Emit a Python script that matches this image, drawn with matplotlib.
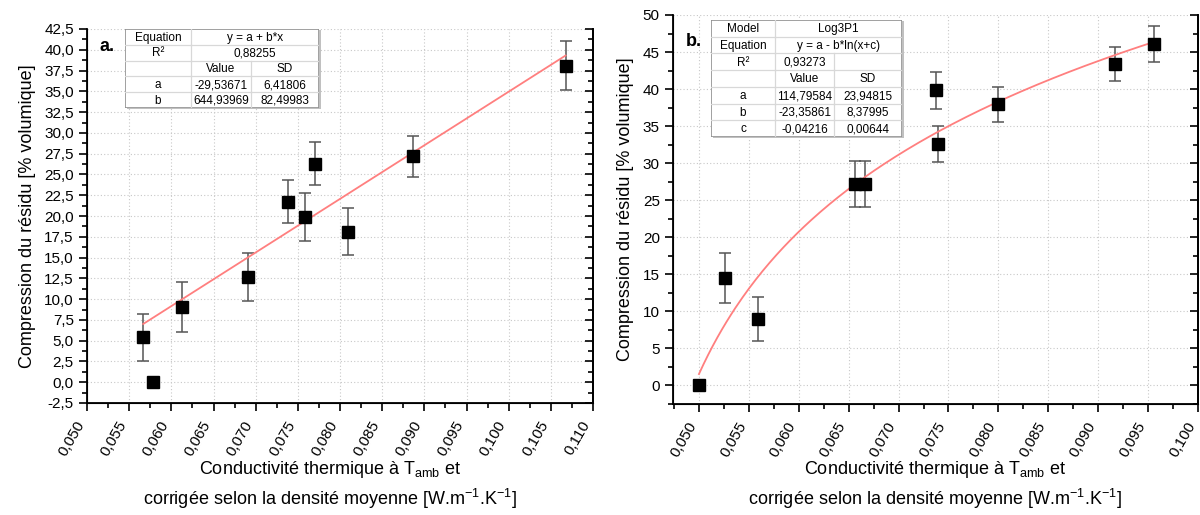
import matplotlib.pyplot as plt
import numpy as np
from matplotlib.ticker import MultipleLocator, FuncFormatter
from matplotlib.patches import Rectangle

plt.rcParams['font.family'] = ['Liberation Sans', 'DejaVu Sans']
plt.rcParams['mathtext.fontset'] = 'custom'
plt.rcParams['mathtext.rm'] = 'Liberation Sans'

# Panneau a : ajustement linéaire
xa = [0.05666, 0.05781, 0.06126, 0.06915, 0.07379, 0.07581, 0.07700, 0.08090, 0.08870, 0.10675]
ya = [5.41, 0.0, 9.05, 12.66, 21.7, 19.9, 26.3, 18.1, 27.16, 38.06]
ea = [2.85, 0.0, 3.0, 2.9, 2.6, 2.85, 2.55, 2.85, 2.5, 2.95]
a_lin, b_lin = -29.53671, 644.93969

# Panneau b : ajustement Log3P1
xb = [0.0500, 0.05256, 0.05595, 0.06565, 0.06667, 0.07374, 0.07392, 0.08001, 0.0917, 0.09555]
yb = [0.0, 14.48, 8.99, 27.16, 27.16, 39.84, 32.55, 37.95, 43.43, 46.13]
eb = [0.0, 3.4, 3.0, 3.1, 3.1, 2.5, 2.45, 2.35, 2.3, 2.45]
a_log, b_log, c_log = 114.79584, -23.35861, -0.04216

table_a = [
    [("Equation", 0, 1), ("y = a + b*x", 1, 3)],
    [("R²", 0, 1), ("0,88255", 1, 3)],
    [("", 0, 1), ("Value", 1, 2), ("SD", 2, 3)],
    [("a", 0, 1), ("-29,53671", 1, 2), ("6,41806", 2, 3)],
    [("b", 0, 1), ("644,93969", 1, 2), ("82,49983", 2, 3)],
]
table_b = [
    [("Model", 0, 1), ("Log3P1", 1, 3)],
    [("Equation", 0, 1), ("y = a - b*ln(x+c)", 1, 3)],
    [("R²", 0, 1), ("0,93273", 1, 2), ("", 2, 3)],
    [("", 0, 1), ("Value", 1, 2), ("SD", 2, 3)],
    [("a", 0, 1), ("114,79584", 1, 2), ("23,94815", 2, 3)],
    [("b", 0, 1), ("-23,35861", 1, 2), ("8,37995", 2, 3)],
    [("c", 0, 1), ("-0,04216", 1, 2), ("0,00644", 2, 3)],
]

xlab1 = "Conductivité thermique à T$_{\\mathrm{amb}}$ et"
xlab2 = "corrigée selon la densité moyenne [W.m$^{\\mathrm{-1}}$.K$^{\\mathrm{-1}}$]"
ylab = "Compression du résidu [% volumique]"

W, H = 1200, 515
fig = plt.figure(figsize=(W / 100, H / 100), dpi=100)


def px_axes(x0, y0, x1, y1):
    return fig.add_axes([x0 / W, 1 - y1 / H, (x1 - x0) / W, (y1 - y0) / H])


def comma(fmt):
    return FuncFormatter(lambda v, p: (fmt % v).replace('.', ','))


def style(ax, xlim, ylim, ymaj, yfmt, xc):
    ax.set_xlim(*xlim)
    ax.set_ylim(*ylim)
    ax.xaxis.set_major_locator(MultipleLocator(0.005))
    ax.xaxis.set_minor_locator(MultipleLocator(0.0025))
    ax.yaxis.set_major_locator(MultipleLocator(ymaj))
    ax.yaxis.set_minor_locator(MultipleLocator(ymaj / 2))
    ax.xaxis.set_major_formatter(comma('%.3f'))
    ax.yaxis.set_major_formatter(comma(yfmt))
    ax.spines['top'].set_visible(False)
    for s in ax.spines.values():
        s.set_linewidth(1.3)
    ax.tick_params(which='major', direction='out', length=6, width=1.2, labelsize=11)
    ax.tick_params(which='minor', direction='out', length=3.5, width=1.2)
    ax.grid(True, which='major', ls=(0, (1, 2)), color='#c8c8c8', lw=0.8)
    ax.set_axisbelow(True)
    for lab in ax.get_xticklabels():
        lab.set_rotation(60)
        lab.set_ha('right')
        lab.set_va('top')
    ax.tick_params(axis='x', pad=5)
    # graduations intérieures sur l'axe de droite
    tw = ax.twinx()
    tw.set_ylim(*ylim)
    tw.yaxis.set_major_locator(MultipleLocator(ymaj))
    tw.yaxis.set_minor_locator(MultipleLocator(ymaj / 2))
    tw.tick_params(which='major', direction='in', length=6, width=1.2, labelright=False)
    tw.tick_params(which='minor', direction='in', length=3.5, width=1.2)
    tw.spines['top'].set_visible(False)
    tw.spines['right'].set_linewidth(1.3)
    ax.set_ylabel(ylab, fontsize=13, labelpad=6)
    fig.text(xc / W, 1 - 470 / H, xlab1, ha='center', va='center', fontsize=13)
    fig.text(xc / W, 1 - 499 / H, xlab2, ha='center', va='center', fontsize=13)


def draw_table(rect, rows, cols):
    tax = px_axes(*rect)
    tax.set_xlim(0, 1)
    tax.set_ylim(len(rows), 0)
    tax.axis('off')
    tax.add_patch(Rectangle((0.012, 0.06), 1, len(rows), fc='#c0c0c0', ec='none', clip_on=False, zorder=0))
    tax.add_patch(Rectangle((0, 0), 1, len(rows), fc='white', ec='#909090', lw=1.2, zorder=1))
    for r, row in enumerate(rows):
        if r > 0:
            tax.plot([0, 1], [r, r], color='#d8d8d8', lw=0.9, zorder=2)
        for text, c0, c1 in row:
            if c0 > 0:
                tax.plot([cols[c0], cols[c0]], [r, r + 1], color='#d8d8d8', lw=0.9, zorder=2)
            tax.text((cols[c0] + cols[c1]) / 2, r + 0.55, text, ha='center', va='center',
                     fontsize=8.5, zorder=3)


# ---- panneau a ----
ax1 = px_axes(87, 29, 593, 403)
style(ax1, (0.050, 0.110), (-2.5, 42.5), 2.5, '%.1f', 330)
xa_ = np.array(xa); ya_ = np.array(ya); ea_ = np.array(ea)
m = ea_ > 0
ax1.errorbar(xa_[m], ya_[m], yerr=ea_[m], fmt='none', ecolor='#555555', elinewidth=1.1,
             capsize=4, capthick=1.1, zorder=3)
xf = np.linspace(min(xa), max(xa), 50)
ax1.plot(xf, a_lin + b_lin * xf, color='#ff7f7f', lw=1.3, zorder=4)
ax1.plot(xa, ya, 's', color='black', ms=8, zorder=5)
ax1.text(0.025, 0.975, "a.", transform=ax1.transAxes, fontsize=13, fontweight='bold', va='top')
draw_table((125, 29, 319, 108), table_a, [0, 0.34, 0.65, 1.0])

# ---- panneau b ----
ax2 = px_axes(673, 15, 1198, 404)
style(ax2, (0.0474, 0.100), (-2.5, 50), 5, '%.0f', 935)
xb_ = np.array(xb); yb_ = np.array(yb); eb_ = np.array(eb)
m = eb_ > 0
ax2.errorbar(xb_[m], yb_[m], yerr=eb_[m], fmt='none', ecolor='#555555', elinewidth=1.1,
             capsize=4, capthick=1.1, zorder=3)
xf = np.linspace(min(xb), max(xb), 200)
ax2.plot(xf, a_log - b_log * np.log(xf + c_log), color='#ff7f7f', lw=1.3, zorder=4)
ax2.plot(xb, yb, 's', color='black', ms=8, zorder=5)
ax2.text(0.025, 0.955, "b.", transform=ax2.transAxes, fontsize=13, fontweight='bold', va='top')
draw_table((711, 20, 902, 137), table_b, [0, 0.335, 0.645, 1.0])

fig.savefig("out.png", dpi=100)
